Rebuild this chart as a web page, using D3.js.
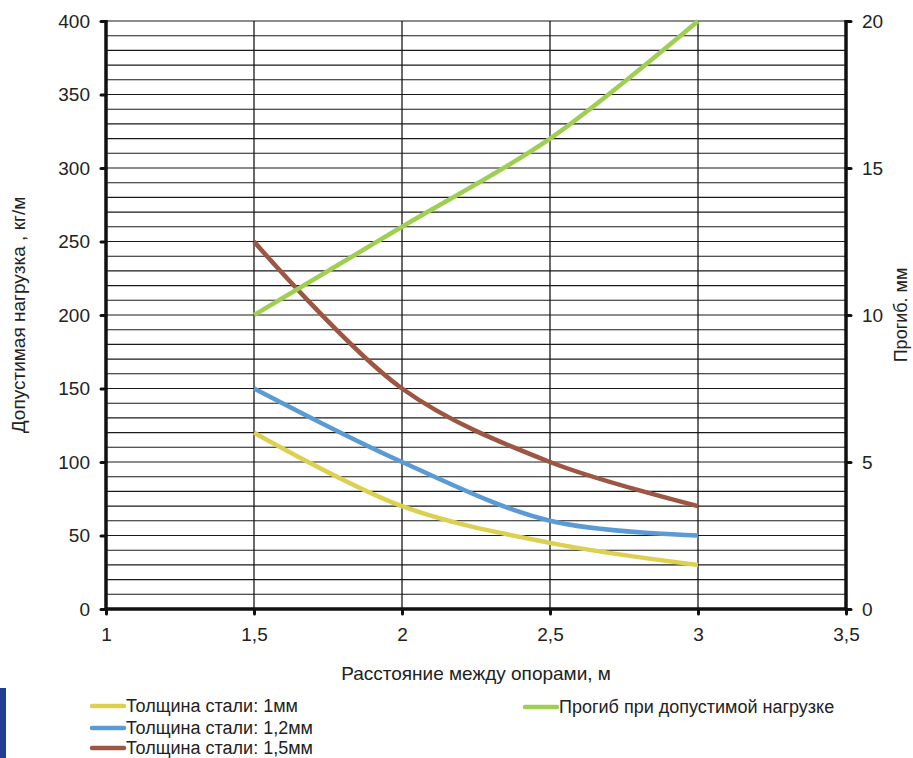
<!DOCTYPE html>
<html><head><meta charset="utf-8">
<script src="https://cdn.jsdelivr.net/npm/d3@7"></script>
<style>
html,body{margin:0;padding:0;background:#fff;}
svg{display:block;font-family:"Liberation Sans",Arial,sans-serif;}
</style></head>
<body>
<svg id="chart" width="913" height="758"></svg>
<script>
const xValues = [1.5, 2, 2.5, 3];
const load1mm = [120, 70, 45, 30];
const load12mm = [150, 100, 60, 50];
const load15mm = [250, 150, 100, 70];
const deflection = [10, 13, 16, 20];
const xTicks = [1, 1.5, 2, 2.5, 3, 3.5];
const yLeftTicks = [0, 50, 100, 150, 200, 250, 300, 350, 400];
const yRightTicks = [0, 5, 10, 15, 20];
const seriesNames = ["Толщина стали: 1мм", "Толщина стали: 1,2мм", "Толщина стали: 1,5мм", "Прогиб при допустимой нагрузке"];
const colors = ["#DCD050", "#5B9BD5", "#9C5641", "#9FCF52"];

const svg = d3.select("#chart");
const L = 106, R = 846, T = 21, B = 609;
const x = d3.scaleLinear().domain([1, 3.5]).range([L, R]);
const y = d3.scaleLinear().domain([0, 400]).range([B, T]);
const y2 = d3.scaleLinear().domain([0, 20]).range([B, T]);
const fmt = d => String(d).replace(".", ",");
const FONT = "Liberation Sans, Arial, sans-serif";

// horizontal grid every 10
const g = svg.append("g");
g.selectAll("line.h").data(d3.range(10, 401, 10)).join("line")
  .attr("class","h")
  .attr("x1", L).attr("x2", R).attr("y1", d => y(d)).attr("y2", d => y(d))
  .attr("stroke", "#1a1a1a").attr("stroke-width", 1.1);
g.selectAll("line.v").data([1.5, 2, 2.5, 3]).join("line")
  .attr("class","v")
  .attr("x1", d => x(d)).attr("x2", d => x(d)).attr("y1", T).attr("y2", B)
  .attr("stroke", "#1a1a1a").attr("stroke-width", 1.3);

// axes
const axisStyle = sel => {
  sel.select(".domain").remove();
  sel.selectAll(".tick line").attr("stroke", "#111").attr("stroke-width", 3).attr("stroke-linecap", "round");
  sel.selectAll(".tick text").attr("fill", "#222").attr("font-size", 19).attr("font-family", FONT);
};
svg.append("g").attr("transform", `translate(${L},0)`)
  .call(d3.axisLeft(y).tickValues(yLeftTicks).tickSize(5).tickPadding(11).tickFormat(fmt)).call(axisStyle);
svg.append("g").attr("transform", `translate(${R},0)`)
  .call(d3.axisRight(y2).tickValues(yRightTicks).tickSize(5).tickPadding(11).tickFormat(fmt)).call(axisStyle);
svg.append("g").attr("transform", `translate(0,${B})`)
  .call(d3.axisBottom(x).tickValues(xTicks).tickSize(5).tickPadding(14).tickFormat(fmt)).call(axisStyle);

// thick axis lines
svg.append("line").attr("x1", L).attr("x2", L).attr("y1", T - 1).attr("y2", B + 1).attr("stroke", "#111").attr("stroke-width", 3.5);
svg.append("line").attr("x1", R).attr("x2", R).attr("y1", T - 1).attr("y2", B + 1).attr("stroke", "#111").attr("stroke-width", 3.5);
svg.append("line").attr("x1", L).attr("x2", R).attr("y1", B).attr("y2", B).attr("stroke", "#111").attr("stroke-width", 3.5);

// series
const lineL = d3.line().x((d, i) => x(xValues[i])).y(d => y(d)).curve(d3.curveCatmullRom.alpha(0.5));
const lineR = d3.line().x((d, i) => x(xValues[i])).y(d => y2(d)).curve(d3.curveCatmullRom.alpha(0.5));
[[load1mm, 0], [load12mm, 1], [load15mm, 2]].forEach(([s, i]) => {
  svg.append("path").attr("d", lineL(s)).attr("fill", "none").attr("stroke", colors[i]).attr("stroke-width", 4.5);
});
svg.append("path").attr("d", lineR(deflection)).attr("fill", "none").attr("stroke", colors[3]).attr("stroke-width", 4.5);

// axis titles
svg.append("text").attr("x", (L + R) / 2).attr("y", 680).attr("text-anchor", "middle")
  .attr("font-size", 19).attr("fill", "#222").text("Расстояние между опорами, м");
svg.append("text").attr("transform", `translate(25,${(T + B) / 2}) rotate(-90)`).attr("text-anchor", "middle")
  .attr("font-size", 19).attr("fill", "#222").text("Допустимая нагрузка , кг/м");
svg.append("text").attr("transform", `translate(907,${(T + B) / 2}) rotate(-90)`).attr("text-anchor", "middle")
  .attr("font-size", 18).attr("fill", "#222").text("Прогиб. мм");

// legend
const legendPos = [[90, 706], [90, 728], [90, 748], [523, 707]];
seriesNames.forEach((n, i) => {
  const [lx, ly] = legendPos[i];
  svg.append("line").attr("x1", lx + 2).attr("x2", lx + 34).attr("y1", ly).attr("y2", ly)
    .attr("stroke", colors[i]).attr("stroke-width", 4.5).attr("stroke-linecap", "round");
  svg.append("text").attr("x", lx + 36).attr("y", ly + 6).attr("font-size", 18).attr("fill", "#222").text(n);
});

// left edge decorative bar
svg.append("rect").attr("x", 0).attr("y", 688).attr("width", 6).attr("height", 70).attr("fill", "#213F8F");
</script>
</body></html>
